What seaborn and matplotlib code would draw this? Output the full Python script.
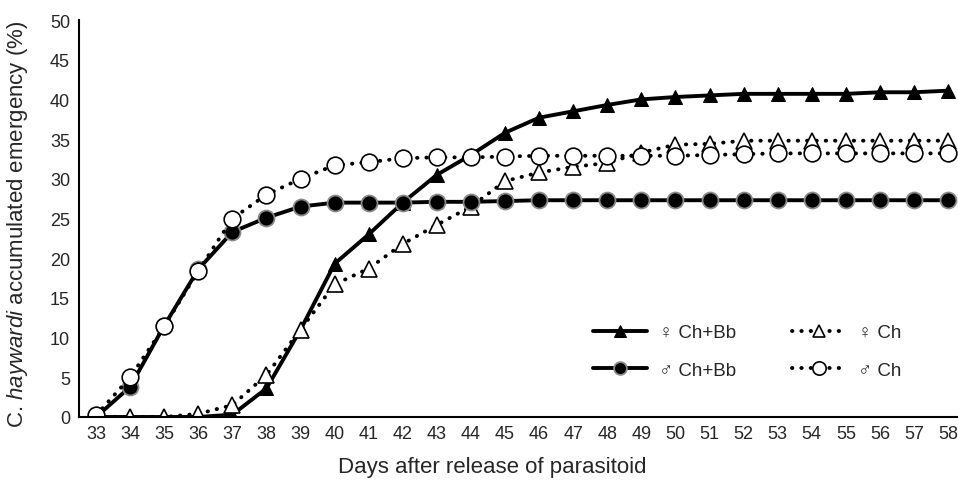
import numpy as np
import pandas as pd
import seaborn as sns
import matplotlib.pyplot as plt
from matplotlib.ticker import FixedLocator

# ==========================================================
# Data
# ==========================================================

days = list(range(33, 59))

female_ch_bb = [0, 0, 0, 0, 0.3, 3.6, 11.0, 19.3, 23.0, 27.0, 30.5, 33.0, 35.8,
                37.7, 38.5, 39.3, 40.0, 40.3, 40.5, 40.7, 40.7, 40.7, 40.7,
                40.9, 40.9, 41.1]

female_ch = [0, 0, 0, 0.4, 1.5, 5.3, 11.0, 16.7, 18.7, 21.8, 24.2, 26.5, 29.7,
             30.8, 31.5, 32.0, 33.3, 34.3, 34.4, 34.8, 34.8, 34.8, 34.8,
             34.8, 34.8, 34.8]

male_ch_bb = [0, 3.8, 11.5, 18.6, 23.3, 25.1, 26.5, 27.0, 27.0, 27.0, 27.1,
              27.1, 27.2, 27.3, 27.3, 27.3, 27.3, 27.3, 27.3, 27.3, 27.3,
              27.3, 27.3, 27.3, 27.3, 27.3]

male_ch = [0.2, 5.0, 11.4, 18.4, 25.0, 28.0, 30.0, 31.7, 32.1, 32.6, 32.7,
           32.7, 32.8, 32.9, 32.9, 32.9, 32.9, 32.9, 33.0, 33.1, 33.2, 33.2,
           33.2, 33.2, 33.2, 33.2]

df = pd.DataFrame({
    "day": days,
    "f_chbb": female_ch_bb,
    "f_ch": female_ch,
    "m_chbb": male_ch_bb,
    "m_ch": male_ch,
})

# ==========================================================
# Style
# ==========================================================

sns.set_style("white")
plt.rcParams["font.family"] = ["Liberation Sans", "DejaVu Sans"]
plt.rcParams["mathtext.fontset"] = "custom"
plt.rcParams["mathtext.rm"] = "Liberation Sans"
plt.rcParams["mathtext.it"] = "Liberation Sans:italic"

W, H = 958, 481
fig = plt.figure(figsize=(W / 100, H / 100), dpi=100)
ax = fig.add_axes([79 / W, (H - 418) / H, 1 - 79 / W, (418 - 21) / H])

dotted = (0, (0.1, 2.3))

# ♀ Ch+Bb : solid, filled triangles
sns.lineplot(data=df, x="day", y="f_chbb", ax=ax, color="black", lw=2.8,
             marker="^", markersize=10, markerfacecolor="black",
             markeredgecolor="black", label="\u2640 Ch+Bb")

# ♀ Ch : dotted, open triangles
sns.lineplot(data=df, x="day", y="f_ch", ax=ax, color="black", lw=2.8,
             linestyle=dotted, dash_capstyle="round",
             marker="^", markersize=11, markerfacecolor="white",
             markeredgecolor="black", markeredgewidth=1.2, label="\u2640 Ch")

# ♂ Ch+Bb : solid, filled circles
sns.lineplot(data=df, x="day", y="m_chbb", ax=ax, color="black", lw=2.8,
             marker="o", markersize=11.5, markerfacecolor="black",
             markeredgecolor="#8a8a8a", markeredgewidth=1.3,
             label="\u2642 Ch+Bb")

# ♂ Ch : dotted, open circles
sns.lineplot(data=df, x="day", y="m_ch", ax=ax, color="black", lw=2.8,
             linestyle=dotted, dash_capstyle="round",
             marker="o", markersize=12, markerfacecolor="white",
             markeredgecolor="black", markeredgewidth=1.2, label="\u2642 Ch")

# ==========================================================
# Axes
# ==========================================================

ax.set_xlim(32.5, 58.29)
ax.set_ylim(0, 50)
ax.set_yticks(range(0, 51, 5))
ax.set_xticks(days)
ax.xaxis.set_minor_locator(FixedLocator(np.arange(32.5, 59, 1.0)))

ax.tick_params(axis="x", which="major", length=0, pad=6, labelsize=13)
ax.tick_params(axis="x", which="minor", length=5, width=1.2, direction="out",
               color="black")
ax.tick_params(axis="y", which="major", length=5, width=1.2, direction="out",
               pad=1.5, labelsize=13, color="black")

sns.despine(ax=ax)
for side in ["left", "bottom"]:
    ax.spines[side].set_linewidth(1.5)
    ax.spines[side].set_color("black")

ax.set_xlabel("")
ax.set_ylabel("")
ax.grid(False)

fig.text(492 / W, (H - 468) / H, "Days after release of parasitoid",
         ha="center", va="center", fontsize=16)
fig.text(18 / W, (H - 224) / H,
         "C. $\\it{haywardi}$ accumulated emergency (%)",
         ha="center", va="center", rotation=90, fontsize=16)

# ==========================================================
# Legend
# ==========================================================

handles, labels = ax.get_legend_handles_labels()
order = [0, 2, 1, 3]
ax.legend([handles[i] for i in order], [labels[i] for i in order],
          ncol=2, frameon=False, loc="upper right",
          bbox_to_anchor=(901 / W, (H - 325) / H),
          bbox_transform=fig.transFigure,
          fontsize=13.5, handlelength=2.9, handletextpad=0.6,
          columnspacing=3.0, labelspacing=1.1, markerscale=0.8,
          borderpad=0, borderaxespad=0)

fig.savefig("out.png", dpi=100)
